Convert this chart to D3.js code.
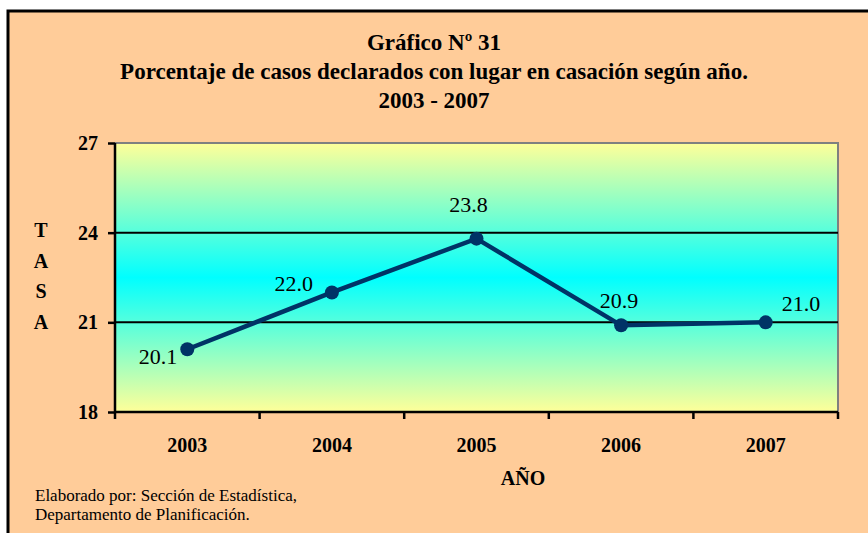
<!DOCTYPE html>
<html>
<head>
<meta charset="utf-8">
<script src="https://cdn.jsdelivr.net/npm/d3@7"></script>
</head>
<body style="margin:0;background:#fff">
<div id="chart"></div>
<script>
// chart data
const years = ["2003", "2004", "2005", "2006", "2007"];
const tasa = [20.1, 22.0, 23.8, 20.9, 21.0];
const yTicks = [18, 21, 24, 27];
const titleLines = ["Gráfico Nº 31", "Porcentaje de casos declarados con lugar en casación según año.", "2003 - 2007"];
const footLines = ["Elaborado por: Sección de Estadística,", "Departamento de Planificación."];

// where each value label sits relative to its point
const labelPlace = [
  {anchor: "end", dx: -10, dy: 15},
  {anchor: "end", dx: -19, dy: -1},
  {anchor: "middle", dx: -8, dy: -27},
  {anchor: "middle", dx: -2, dy: -17},
  {anchor: "start", dx: 16, dy: -11}
];

const FONT = "'Liberation Serif', 'Times New Roman', serif";
const W = 868, H = 533;
const margin = {top: 143, right: 30, bottom: 121, left: 115};
const plotW = W - margin.left - margin.right;
const plotH = H - margin.top - margin.bottom;

const svg = d3.select("#chart").append("svg")
    .attr("width", W)
    .attr("height", H)
    .style("font-family", FONT);

// peach panel with black border on top/left
svg.append("rect")
    .attr("x", 8).attr("y", 11)
    .attr("width", W).attr("height", H)
    .attr("fill", "#ffcc99")
    .attr("stroke", "#000")
    .attr("stroke-width", 3);

const defs = svg.append("defs");
const grad = defs.append("linearGradient")
    .attr("id", "bg").attr("x1", 0).attr("y1", 0).attr("x2", 0).attr("y2", 1);
grad.append("stop").attr("offset", "0%").attr("stop-color", "#ffff99");
grad.append("stop").attr("offset", "50%").attr("stop-color", "#00ffff");
grad.append("stop").attr("offset", "100%").attr("stop-color", "#ffff99");

// title
svg.selectAll(".title").data(titleLines).enter().append("text")
    .attr("class", "title")
    .attr("x", 434)
    .attr("y", (d, i) => 50 + i * 29)
    .attr("text-anchor", "middle")
    .style("font-family", FONT)
    .style("font-weight", "bold")
    .style("font-size", "23px")
    .text(d => d);

const g = svg.append("g").attr("transform", `translate(${margin.left},${margin.top})`);

const x = d3.scaleBand().domain(years).range([0, plotW]);
const y = d3.scaleLinear().domain([18, 27]).range([plotH, 0]);

g.append("rect")
    .attr("width", plotW).attr("height", plotH)
    .attr("fill", "url(#bg)");

// gray top and right edges of the plot
g.append("path")
    .attr("d", `M0,0H${plotW}V${plotH}`)
    .attr("fill", "none")
    .attr("stroke", "#808080")
    .attr("stroke-width", 2);

// gridlines
g.selectAll(".grid").data(yTicks.filter(t => t > 18 && t < 27)).enter().append("line")
    .attr("x1", 0).attr("x2", plotW)
    .attr("y1", d => y(d)).attr("y2", d => y(d))
    .attr("stroke", "#000")
    .attr("stroke-width", 2);

// y axis
const yAxis = g.append("g")
    .call(d3.axisLeft(y).tickValues(yTicks).tickSize(7).tickPadding(10).tickFormat(d3.format("d")));
yAxis.attr("font-family", null);
yAxis.select(".domain").attr("stroke", "#000").attr("stroke-width", 2.5).attr("d", `M0,0V${plotH}`);
yAxis.selectAll(".tick line").attr("stroke-width", 2.5);
yAxis.selectAll("text")
    .style("font-family", FONT)
    .style("font-size", "20px")
    .style("font-weight", "bold")
    .attr("fill", "#000");

// x axis: ticks on band edges, labels at band centres
const xAxis = g.append("g").attr("transform", `translate(0,${plotH})`);
xAxis.append("line")
    .attr("x1", 0).attr("x2", plotW)
    .attr("stroke", "#000").attr("stroke-width", 2.5);
const edges = years.map(d => x(d)).concat([plotW]);
xAxis.selectAll(".edge").data(edges).enter().append("line")
    .attr("x1", d => d).attr("x2", d => d)
    .attr("y1", 0).attr("y2", 7)
    .attr("stroke", "#000").attr("stroke-width", 2.5);
xAxis.selectAll(".lbl").data(years).enter().append("text")
    .attr("x", d => x(d) + x.bandwidth() / 2)
    .attr("y", 40)
    .attr("text-anchor", "middle")
    .style("font-family", FONT)
    .style("font-size", "20px")
    .style("font-weight", "bold")
    .text(d => d);

// axis titles
svg.append("text")
    .attr("x", 523).attr("y", 485)
    .attr("text-anchor", "middle")
    .style("font-family", FONT)
    .style("font-size", "20px").style("font-weight", "bold")
    .text("AÑO");
svg.selectAll(".ylab").data("TASA".split("")).enter().append("text")
    .attr("x", 41)
    .attr("y", (d, i) => 237 + i * 30.5)
    .attr("text-anchor", "middle")
    .style("font-family", FONT)
    .style("font-size", "20px").style("font-weight", "bold")
    .text(d => d);

// series
const cx = (d, i) => x(years[i]) + x.bandwidth() / 2;
const line = d3.line().x(cx).y(d => y(d));
g.append("path")
    .datum(tasa)
    .attr("d", line)
    .attr("fill", "none")
    .attr("stroke", "#003366")
    .attr("stroke-width", 4.5);
g.selectAll(".pt").data(tasa).enter().append("circle")
    .attr("cx", cx)
    .attr("cy", d => y(d))
    .attr("r", 7)
    .attr("fill", "#003366");
g.selectAll(".val").data(tasa).enter().append("text")
    .attr("x", (d, i) => cx(d, i) + labelPlace[i].dx)
    .attr("y", (d, i) => y(d) + labelPlace[i].dy)
    .attr("text-anchor", (d, i) => labelPlace[i].anchor)
    .style("font-family", FONT)
    .style("font-size", "22px")
    .text(d => d.toFixed(1));

// footnote
svg.selectAll(".foot").data(footLines).enter().append("text")
    .attr("x", 35)
    .attr("y", (d, i) => 501 + i * 19)
    .style("font-family", FONT)
    .style("font-size", "17px")
    .text(d => d);
</script>
</body>
</html>
